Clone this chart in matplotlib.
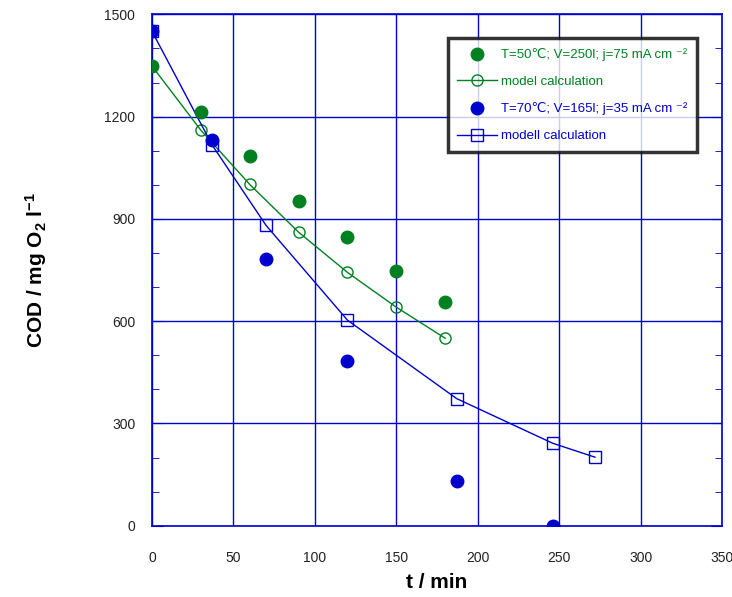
import numpy as np
import matplotlib
matplotlib.use('Agg')
import matplotlib.pyplot as plt

plt.rcParams['font.family'] = ['Liberation Sans', 'DejaVu Sans']
plt.rcParams['mathtext.fontset'] = 'custom'
plt.rcParams['mathtext.rm'] = 'Liberation Sans:bold'
plt.rcParams['mathtext.bf'] = 'Liberation Sans:bold'
plt.rcParams['mathtext.default'] = 'bf'

# data
t_50 = [0, 30, 60, 90, 120, 150, 180]
cod_50 = [1348, 1213, 1084, 952, 848, 747, 657]
t_50_model = [0, 30, 60, 90, 120, 150, 180]
cod_50_model = [1348, 1160, 1001, 861, 743, 641, 550]

t_70 = [0, 37, 70, 120, 187, 246]
cod_70 = [1450, 1130, 783, 484, 132, 0]
t_70_model = [0, 37, 70, 120, 187, 246, 272]
cod_70_model = [1450, 1116, 881, 603, 373, 242, 201]

green = '#008020'
blue = '#0000CC'

fig = plt.figure(figsize=(7.32, 5.97), dpi=100)
ax = fig.add_axes([0.2077, 0.1194, 0.7786, 0.8566])

ax.plot(t_50_model, cod_50_model, color=green, lw=1, marker='o', ms=8,
        mfc='none', mec=green, mew=1, label='model calculation', zorder=3)
ax.plot(t_70_model, cod_70_model, color=blue, lw=1, marker='s', ms=9,
        mfc='none', mec=blue, mew=1, label='modell calculation', zorder=3)
ax.plot(t_50, cod_50, ls='none', marker='o', ms=9, color=green,
        label='T=50\u2103; V=250l; j=75 mA cm \u207b\u00b2', zorder=4)
ax.plot(t_70, cod_70, ls='none', marker='o', ms=9, color=blue,
        label='T=70\u2103; V=165l; j=35 mA cm \u207b\u00b2', zorder=4)

ax.set_xlim(0, 350)
ax.set_ylim(0, 1500)
ax.set_xticks(np.arange(0, 351, 50))
ax.set_yticks(np.arange(0, 1501, 300))
ax.set_yticks(np.arange(0, 1501, 100), minor=True)
ax.grid(True, which='major', color=blue, lw=1)
ax.set_axisbelow(True)
for s in ax.spines.values():
    s.set_color(blue)
    s.set_linewidth(1.2)
ax.tick_params(axis='both', which='both', direction='in', color=blue,
               right=True, labelsize=10, labelcolor='#222222')
ax.tick_params(axis='x', pad=18, length=0)
ax.tick_params(axis='y', which='major', length=8, pad=12)
ax.tick_params(axis='y', which='minor', length=5)

ax.set_xlabel('t / min', fontsize=15, fontweight='bold', labelpad=6)
ax.set_ylabel('COD / mg O$_{2}$ l$^{-1}$', fontsize=15, fontweight='bold', labelpad=40)

h, l = ax.get_legend_handles_labels()
order = [2, 0, 3, 1]
leg = ax.legend([h[i] for i in order], [l[i] for i in order],
                loc='upper right', bbox_to_anchor=(0.968, 0.966), fontsize=9.5,
                frameon=True, fancybox=False, shadow=False, handlelength=3.0,
                handletextpad=0.3, labelspacing=1.1, borderpad=0.75,
                labelcolor=[green, green, blue, blue])
leg.get_frame().set_edgecolor('black')
leg.get_frame().set_linewidth(2.5)

fig.savefig('out.png', dpi=100)
